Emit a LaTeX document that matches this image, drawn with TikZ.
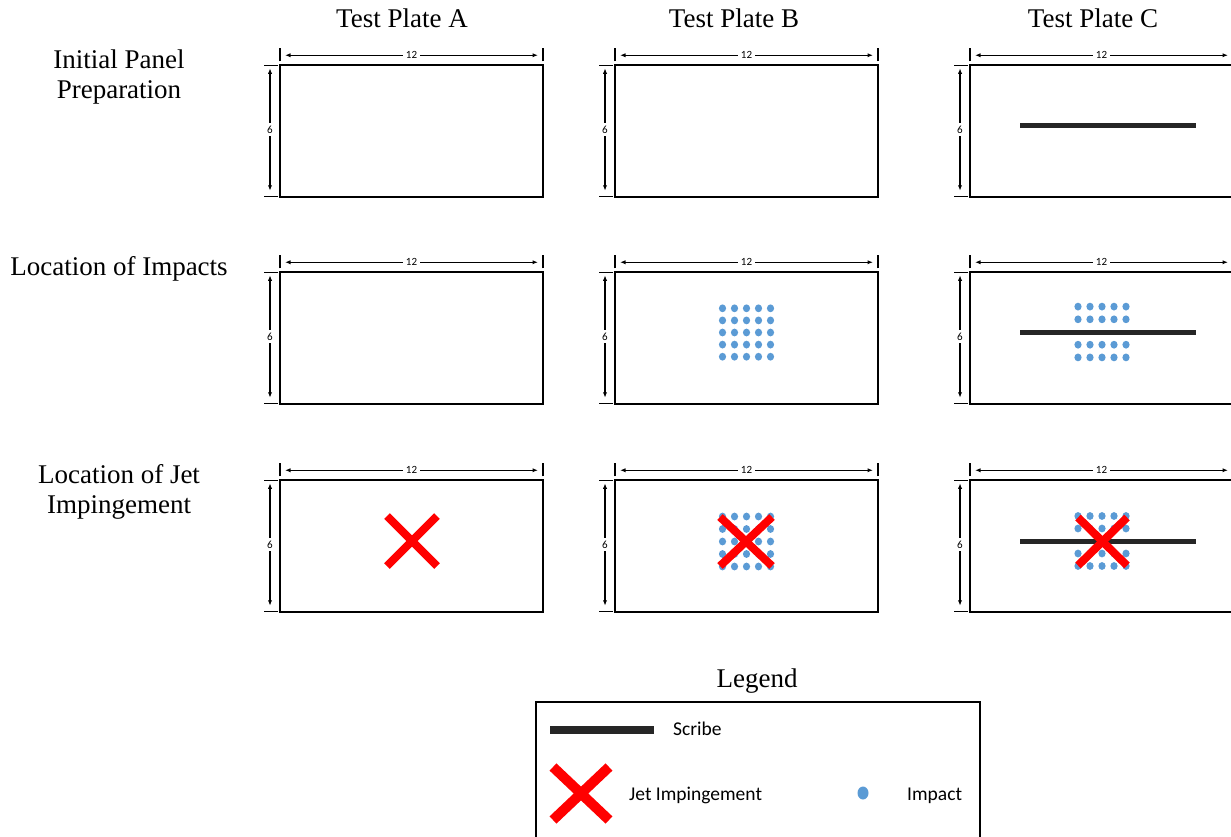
\documentclass[tikz,border=0pt]{standalone}
\usepackage{fontspec}
\setmainfont{Liberation Serif}
\newfontfamily\calibfont{Carlito}
\usetikzlibrary{arrows.meta,calc}
\definecolor{impactblue}{HTML}{5B9BD5}
\definecolor{scribegray}{HTML}{262626}
\definecolor{jetred}{HTML}{FF0000}

% plate outline with its 12 x 6 dimension marks
\newcommand{\plateat}[3]{%
  \node[plate] (#1) at (#2,#3) {};
  \draw[dimline] ($(#1.north west)+(0,-4)$) -- ++(0,-13);
  \draw[dimline] ($(#1.north east)+(0,-4)$) -- ++(0,-13);
  \draw[dimline] ($(#1.north west)+(-2,0)$) -- ++(-14,0);
  \draw[dimline] ($(#1.south west)+(-2,0)$) -- ++(-14,0);
  \draw[dimarrow] ($(#1.north west)+(5,-10)$) -- node[dimlabel]{12} ($(#1.north east)+(-5,-10)$);
  \draw[dimarrow] ($(#1.north west)+(-10,3)$) -- node[dimlabel]{6} ($(#1.south west)+(-10,-6)$);
}
% grid of impacts: centre x, centre y, row spacing, list of rows
\newcommand{\impactgrid}[4]{%
  \foreach \i in {-2,...,2}{
    \foreach \j in {#4}{
      \fill[impactblue] ({#1+\i*12},{#2+\j*#3}) ellipse (3.6 and 3.9);
    }
  }
}
% jet impingement cross: centre x, centre y, half width, half height
\newcommand{\jetcross}[4]{%
  \draw[jet] ({#1-#3},{#2-#4}) -- ({#1+#3},{#2+#4});
  \draw[jet] ({#1-#3},{#2+#4}) -- ({#1+#3},{#2-#4});
}

\begin{document}
\begin{tikzpicture}[x=1pt,y=-1pt,
  plate/.style={draw=black, line width=1.7pt, minimum width=263pt, minimum height=131.5pt, inner sep=0pt, outer sep=0pt},
  dimline/.style={draw=black, line width=1.1pt},
  dimarrow/.style={draw=black, line width=1.1pt, {Latex[length=5.5pt,width=4.2pt]}-{Latex[length=5.5pt,width=4.2pt]}},
  dimlabel/.style={fill=white, inner sep=2.5pt, font=\calibfont\fontsize{11}{13}\selectfont},
  head/.style={font=\fontsize{27}{30}\selectfont, align=center, inner sep=0pt},
  scribe/.style={draw=scribegray, line width=5pt},
  jet/.style={draw=jetred, line width=8pt},
  legendtext/.style={font=\calibfont\fontsize{19.5}{22}\selectfont, inner sep=0pt}
]
\useasboundingbox (0,0) rectangle (1231,836);
\fill[white] (0,0) rectangle (1231,836);

% column headings
\node[head, anchor=base] (hA) at (402,27.5) {Test Plate A};
\node[head, anchor=base] (hB) at (734,27.5) {Test Plate B};
\node[head, anchor=base] (hC) at (1093,27.5) {Test Plate C};

% row headings
\node[head] (r1) at (119,77) {Initial Panel\\Preparation};
\node[head, anchor=base] (r2) at (119,275) {Location of Impacts};
\node[head] (r3) at (119,492) {Location of Jet\\Impingement};

% plates
\plateat{pA1}{411.5}{131}
\plateat{pB1}{746.5}{131}
\plateat{pC1}{1101.5}{131}
\plateat{pA2}{411.5}{338}
\plateat{pB2}{746.5}{338}
\plateat{pC2}{1101.5}{338}
\plateat{pA3}{411.5}{546}
\plateat{pB3}{746.5}{546}
\plateat{pC3}{1101.5}{546}

% impacts
\impactgrid{746.5}{332.5}{12.1}{-2,-1,0,1,2}
\impactgrid{1102}{332}{12.7}{-2,-1,1,2}
\impactgrid{746.5}{541.5}{12.5}{-2,-1,0,1,2}
\impactgrid{1102}{541}{12.5}{-2,-1,1,2}

% scribes
\draw[scribe] (1020,125) -- (1196,125);
\draw[scribe] (1020,332) -- (1196,332);
\draw[scribe] (1020,541) -- (1196,541);

% jet impingement
\jetcross{412}{541}{25}{25}
\jetcross{746}{541.5}{26}{24.5}
\jetcross{1102.5}{541.5}{24.5}{24}

% legend
\node[head, anchor=base] (lg) at (757,687) {Legend};
\draw[draw=black, line width=1.8pt] (536,702) rectangle (980,845);
\fill[scribegray] (550,726) rectangle (654,734);
\node[legendtext, anchor=base west] (ls) at (673,735) {Scribe};
\draw[jet, line width=10pt] (553,767) -- (609,820);
\draw[jet, line width=10pt] (553,820) -- (609,767);
\node[legendtext, anchor=base west] (lj) at (629,800) {Jet Impingement};
\fill[impactblue] (863,793) ellipse (5.5 and 6.5);
\node[legendtext, anchor=base west] (li) at (907,800) {Impact};
\end{tikzpicture}
\end{document}
